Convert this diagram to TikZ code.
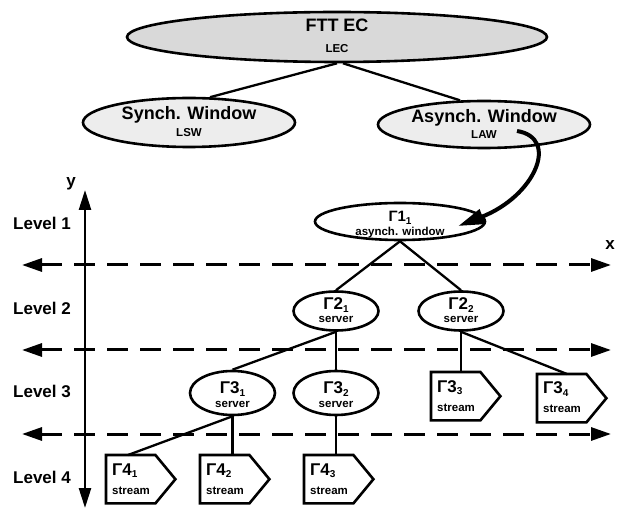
\documentclass[tikz,border=0pt]{standalone}
\usepackage{fontspec}
\setmainfont{Liberation Sans}
\usetikzlibrary{arrows.meta,shapes.geometric,calc}
\definecolor{topgray}{HTML}{D9D9D9}
\definecolor{wingray}{HTML}{EDEDED}
\newcommand\fs[1]{\fontsize{#1}{#1}\selectfont\bfseries}
\newcommand\gsub[1]{\raisebox{-2.5pt}{\fontsize{10}{10}\selectfont\bfseries #1}}
\newcommand\Stream[4]{%
  \node[sbox] (#1) at (#2,#3) {};
  \draw[soutl] (#1.north west) -- ($(#1.north east)+(-20,0)$) -- (#1.east) -- ($(#1.south east)+(-20,0)$) -- (#1.south west) -- cycle;
  \node[gam, anchor=base west] (#1t) at ($(#1.north west)+(6,20)$) {#4};
  \node[small, anchor=base west] (#1s) at ($(#1.north west)+(6,39)$) {stream};}
\begin{document}
\begin{tikzpicture}[x=1pt,y=-1pt,
  ell/.style={draw, ellipse, line width=2.6pt, inner sep=0},
  big/.style={font=\fs{18}, anchor=base, inner sep=0},
  small/.style={font=\fs{11.5}, anchor=base, inner sep=0},
  gam/.style={font=\fs{17}, anchor=base, inner sep=0},
  edge/.style={line width=2.3pt},
  sbox/.style={rectangle, minimum width=69pt, minimum height=48pt, inner sep=0, anchor=north west},
  soutl/.style={line width=2.6pt, line join=miter},
  lev/.style={font=\fs{17}, anchor=base west, inner sep=0},
  dashaxis/.style={line width=3pt, dash pattern=on 21pt off 12pt, {Triangle[length=20pt,width=13pt]}-{Triangle[length=20pt,width=13pt]}},
  yaxis/.style={line width=2.5pt, {Triangle[length=20pt,width=12pt]}-{Triangle[length=20pt,width=12pt]}}
  ]
\useasboundingbox (0,0) rectangle (621,510);

% top hierarchy
\node[ell, fill=topgray, minimum width=420pt, minimum height=50pt] (ftt) at (337,37) {};
\node[big] (ftta) at (337,32) {FTT EC};
\node[small] (fttb) at (337,53) {LEC};

\node[ell, fill=wingray, minimum width=212pt, minimum height=49pt] (syn) at (189,122.5) {};
\node[big] (syna) at (189,120) {Synch. Window};
\node[small] (synb) at (189,136.5) {LSW};

\node[ell, fill=wingray, minimum width=212pt, minimum height=47pt] (asy) at (484,124.5) {};
\node[big] (asya) at (484,123) {Asynch. Window};
\node[small] (asyb) at (484,139) {LAW};

\draw[edge] (ftt.south) -- ($(syn.north)+(21,0.5)$);
\draw[edge] ($(ftt.south)+(6,0)$) -- ($(asy.north)+(-24,0.6)$);

% axes
\coordinate (ytop) at (85,190);
\coordinate (ybot) at (85,508);
\draw[yaxis] (ybot) -- (ytop);
\node[font=\fs{17}, anchor=base, inner sep=0] (ylab) at (71,187) {y};
\node[font=\fs{17}, anchor=base, inner sep=0] (xlab) at (610,250) {x};

\coordinate (l1) at (22,265); \coordinate (r1) at (611,265);
\coordinate (l2) at (22,350); \coordinate (r2) at (611,350);
\coordinate (l3) at (22,434); \coordinate (r3) at (611,434);
\draw[dashaxis] (l1) -- (r1);
\draw[dashaxis] (l2) -- (r2);
\draw[dashaxis] (l3) -- (r3);

\node[lev] (lv1) at (13,230) {Level 1};
\node[lev] (lv2) at (13,315) {Level 2};
\node[lev] (lv3) at (13,398) {Level 3};
\node[lev] (lv4) at (13,483) {Level 4};

% level 1
\node[ell, fill=white, minimum width=170pt, minimum height=37pt] (g1) at (400,221.5) {};
\node[gam, font=\fs{15}] (g1a) at (400,222) {Γ1\gsub{1}};
\node[small] (g1b) at (400,236) {asynch. window};

% level 2
\node[ell, fill=white, minimum width=85pt, minimum height=39pt] (g21) at (336,311) {};
\node[gam] (g21a) at (336,310) {Γ2\gsub{1}};
\node[small] (g21b) at (336,323) {server};
\node[ell, fill=white, minimum width=85pt, minimum height=39pt] (g22) at (461,311) {};
\node[gam] (g22a) at (461,310) {Γ2\gsub{2}};
\node[small] (g22b) at (461,323) {server};

% level 3
\node[ell, fill=white, minimum width=85pt, minimum height=44pt] (g31) at (232.5,393) {};
\node[gam] (g31a) at (232.5,394) {Γ3\gsub{1}};
\node[small] (g31b) at (232.5,407) {server};
\node[ell, fill=white, minimum width=85pt, minimum height=44pt] (g32) at (336,393) {};
\node[gam] (g32a) at (336,394) {Γ3\gsub{2}};
\node[small] (g32b) at (336,407) {server};
\Stream{g33}{431}{372}{Γ3\gsub{3}}
\Stream{g34}{537}{374}{Γ3\gsub{4}}

% level 4
\Stream{g41}{106}{455}{Γ4\gsub{1}}
\Stream{g42}{200}{455}{Γ4\gsub{2}}
\Stream{g43}{304}{455}{Γ4\gsub{3}}

% tree edges
\draw[edge] (g1.south) -- (g21.north);
\draw[edge] (g1.south) -- (g22.north);
\draw[edge] (g21.south) -- (g31.north);
\draw[edge] (g21.south) -- (g32.north);
\draw[edge] (g22.south) -- ($(g33.north west)+(30,0)$);
\draw[edge] (g22.south) -- ($(g34.north west)+(30,0)$);
\draw[edge] (g31.south) -- ($(g41.north west)+(22,0)$);
\draw[edge] (g31.south) -- ($(g42.north west)+(32.5,0)$);
\draw[edge] (g32.south) -- ($(g43.north west)+(32,0)$);

% curved arrow LAW -> Gamma1
\draw[line width=4pt, -{Triangle[length=26pt,width=15pt]}] ($(asy.center)+(33,6.5)$) .. controls (560,138) and (535,196) .. ($(g1.east)+(-28,4.5)$);
\end{tikzpicture}
\end{document}
